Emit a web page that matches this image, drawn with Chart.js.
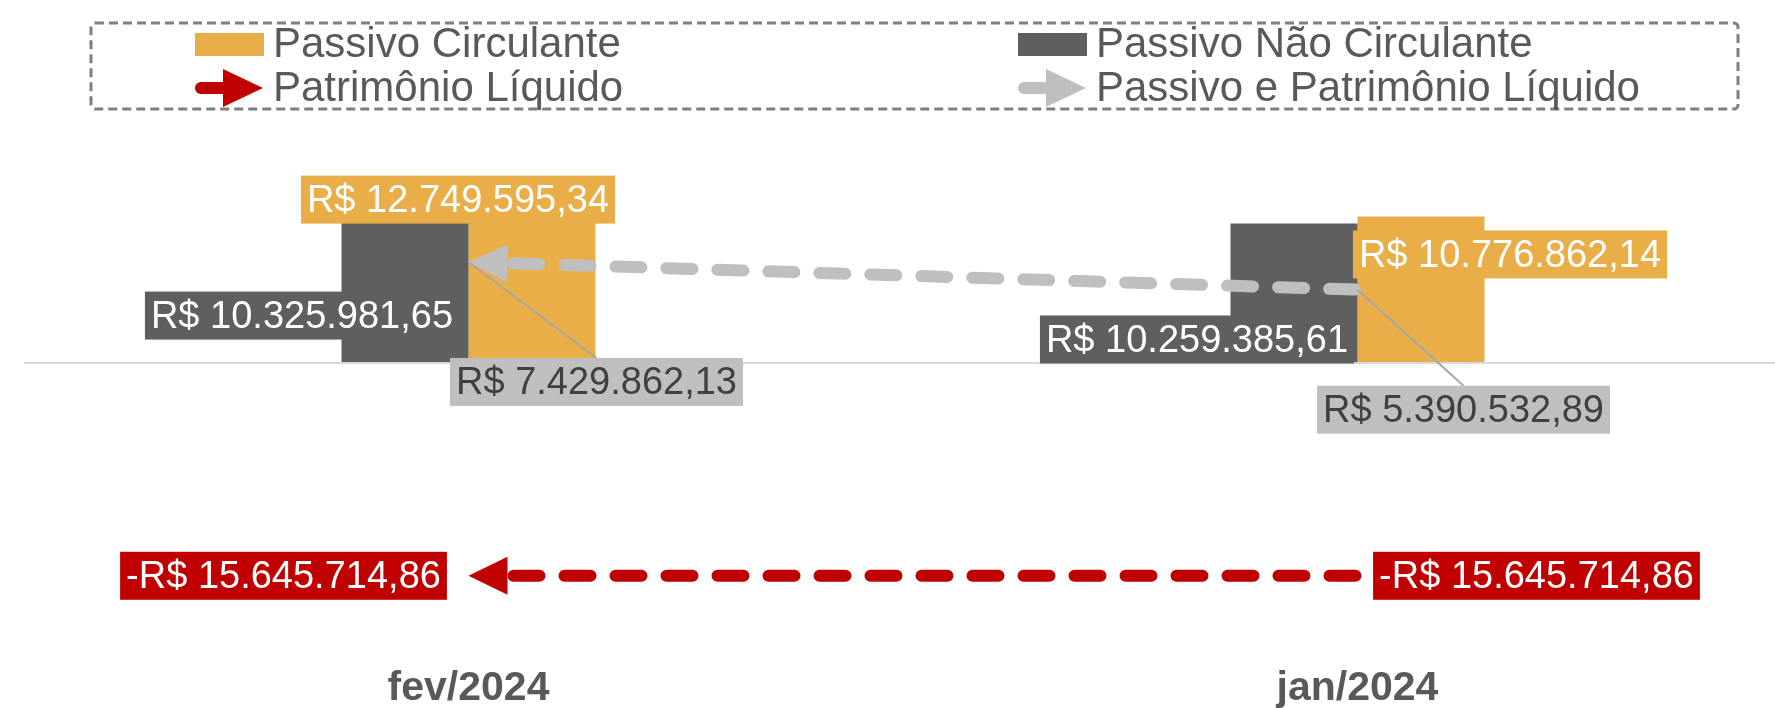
<!DOCTYPE html>
<html>
<head>
<meta charset="utf-8">
<title>Passivo e Patrimônio Líquido</title>
<script src="https://cdn.jsdelivr.net/npm/chart.js@4.4.1/dist/chart.umd.min.js"></script>
<style>
  html, body { margin: 0; padding: 0; background: #fff; overflow: hidden; }
  #wrap { position: relative; width: 1806px; height: 708px; }
</style>
</head>
<body>
<div id="wrap"><canvas id="mycanvas" width="1806" height="708"></canvas></div>
<script>
// data
var categories = ['fev/2024', 'jan/2024'];
var passivoNaoCirculante = [10325981.65, 10259385.61];
var passivoCirculante = [12749595.34, 10776862.14];
var patrimonioLiquido = [-15645714.86, -15645714.86];
var passivoEPatrimonio = [7429862.13, 5390532.89];

var FONT = "'Liberation Sans', Arial, sans-serif";
var ORANGE = '#E9AE47', DARK = '#5F5F5F', RED = '#C00000', LGRAY = '#BFBFBF';

function brl(v) {
	var s = Math.abs(v).toFixed(2).split('.');
	var inteiro = s[0].replace(/\B(?=(\d{3})+(?!\d))/g, '.');
	return (v < 0 ? '-' : '') + 'R$ ' + inteiro + ',' + s[1];
}

// where each value box sits, relative to its bar top / point
var labelPos = [
	[{dx: -103, dy: 93}, {dx: -97, dy: 116}],
	[{dx: -74, dy: 10}, {dx: 89, dy: 38}],
	[{dx: -185, dy: 0}, {dx: 179, dy: 0}],
	[{dx: 128, dy: 120, leader: true}, {dx: 106, dy: 120, leader: true}]
];
var labelStyle = [
	{bg: DARK, fg: '#ffffff'},
	{bg: ORANGE, fg: '#ffffff'},
	{bg: RED, fg: '#ffffff'},
	{bg: LGRAY, fg: '#404040'}
];

function arrowHead(ctx, x, y, ang, len, half, color) {
	ctx.save();
	ctx.translate(x, y);
	ctx.rotate(ang);
	ctx.beginPath();
	ctx.moveTo(0, 0);
	ctx.lineTo(-len, -half);
	ctx.lineTo(-len, half);
	ctx.closePath();
	ctx.fillStyle = color;
	ctx.fill();
	ctx.restore();
}

// line starts behind the arrow head
var lineClip = {
	id: 'lineClip',
	beforeDatasetDraw: function(chart, args) {
		if (args.meta.type !== 'line') return;
		var p0 = args.meta.data[0];
		var ctx = chart.ctx;
		ctx.save();
		ctx.beginPath();
		ctx.rect(p0.x + 39, 0, chart.width, chart.height);
		ctx.clip();
	},
	afterDatasetDraw: function(chart, args) {
		if (args.meta.type !== 'line') return;
		chart.ctx.restore();
	}
};

var arrowsAndLabels = {
	id: 'arrowsAndLabels',
	afterDatasetsDraw: function(chart) {
		var ctx = chart.ctx;
		chart.data.datasets.forEach(function(ds, i) {
			var meta = chart.getDatasetMeta(i);
			if (meta.type !== 'line') return;
			var p0 = meta.data[0], p1 = meta.data[1];
			var ang = Math.atan2(p0.y - p1.y, p0.x - p1.x);
			arrowHead(ctx, p0.x, p0.y, ang, 39, 19, ds.borderColor);
		});

		ctx.save();
		ctx.font = '38px ' + FONT;
		ctx.textAlign = 'center';
		ctx.textBaseline = 'middle';
		chart.data.datasets.forEach(function(ds, i) {
			var meta = chart.getDatasetMeta(i);
			meta.data.forEach(function(el, j) {
				var pos = labelPos[i][j];
				var txt = brl(ds.data[j]);
				var w = ctx.measureText(txt).width + 12;
				var h = 48;
				var cx = el.x + pos.dx, cy = el.y + pos.dy;
				if (pos.leader) {
					ctx.beginPath();
					ctx.moveTo(el.x, el.y);
					ctx.lineTo(cx, cy - h / 2);
					ctx.strokeStyle = '#A6A6A6';
					ctx.lineWidth = 2;
					ctx.setLineDash([]);
					ctx.stroke();
				}
				ctx.fillStyle = labelStyle[i].bg;
				ctx.fillRect(cx - w / 2, cy - h / 2, w, h);
				ctx.fillStyle = labelStyle[i].fg;
				ctx.fillText(txt, cx, cy + 2);
			});
		});
		ctx.restore();
	}
};

var boxLegend = {
	id: 'boxLegend',
	afterDraw: function(chart) {
		var ctx = chart.ctx;
		var ds = chart.data.datasets;
		ctx.save();
		ctx.strokeStyle = '#7F7F7F';
		ctx.lineWidth = 3;
		ctx.setLineDash([9, 5]);
		ctx.beginPath();
		ctx.roundRect(91, 23, 1647, 86, 4);
		ctx.stroke();
		ctx.setLineDash([]);

		var items = [
			{ds: ds[1], x: 195, y: 44},
			{ds: ds[0], x: 1018, y: 44},
			{ds: ds[2], x: 195, y: 88},
			{ds: ds[3], x: 1018, y: 88}
		];
		ctx.font = '42px ' + FONT;
		ctx.fillStyle = '#595959';
		ctx.textBaseline = 'alphabetic';
		ctx.textAlign = 'left';
		items.forEach(function(it) {
			if (it.ds.type === 'line') {
				ctx.beginPath();
				ctx.moveTo(it.x + 6, it.y);
				ctx.lineTo(it.x + 32, it.y);
				ctx.strokeStyle = it.ds.borderColor;
				ctx.lineWidth = 12;
				ctx.lineCap = 'round';
				ctx.stroke();
				arrowHead(ctx, it.x + 68, it.y, 0, 40, 19, it.ds.borderColor);
			} else {
				ctx.fillStyle = it.ds.backgroundColor;
				ctx.fillRect(it.x, it.y - 11, 69, 23);
			}
			ctx.fillStyle = '#595959';
			ctx.fillText(it.ds.label, it.x + 78, it.y + 13);
		});
		ctx.restore();
	}
};

var ctx = document.getElementById('mycanvas');

var chart = new Chart(ctx, {
	type: 'bar',
	data: {
		labels: categories,
		datasets: [
			{
				label: 'Passivo Não Circulante',
				data: passivoNaoCirculante,
				backgroundColor: DARK,
				categoryPercentage: 0.2857,
				barPercentage: 1.0,
				order: 3
			},
			{
				label: 'Passivo Circulante',
				data: passivoCirculante,
				backgroundColor: ORANGE,
				categoryPercentage: 0.2857,
				barPercentage: 1.0,
				order: 3
			},
			{
				type: 'line',
				label: 'Patrimônio Líquido',
				data: patrimonioLiquido,
				borderColor: RED,
				backgroundColor: RED,
				borderWidth: 12,
				borderDash: [26, 25],
				borderDashOffset: 6,
				borderCapStyle: 'round',
				pointRadius: 0,
				fill: false,
				order: 1
			},
			{
				type: 'line',
				label: 'Passivo e Patrimônio Líquido',
				data: passivoEPatrimonio,
				borderColor: LGRAY,
				backgroundColor: LGRAY,
				borderWidth: 12,
				borderDash: [26, 25],
				borderDashOffset: 6,
				borderCapStyle: 'round',
				pointRadius: 0,
				fill: false,
				order: 2
			}
		]
	},
	options: {
		responsive: false,
		animation: false,
		devicePixelRatio: 1,
		layout: { padding: { left: 24, right: 4, top: 91, bottom: 0 } },
		plugins: {
			legend: { display: false },
			tooltip: { enabled: false }
		},
		scales: {
			x: {
				grid: { display: false, drawTicks: false },
				border: { display: false },
				afterFit: function(scale) { scale.height = 73; },
				ticks: {
					color: '#595959',
					padding: 33,
					font: { family: FONT, size: 41, weight: 'bold', lineHeight: 1 }
				}
			},
			y: {
				min: -20000000,
				max: 20000000,
				ticks: { display: false, stepSize: 5000000 },
				grid: {
					drawTicks: false,
					lineWidth: 2,
					color: function(c) { return c.tick && c.tick.value === 0 ? '#D9D9D9' : 'rgba(0,0,0,0)'; }
				},
				border: { display: false }
			}
		}
	},
	plugins: [lineClip, arrowsAndLabels, boxLegend]
});
</script>
</body>
</html>
